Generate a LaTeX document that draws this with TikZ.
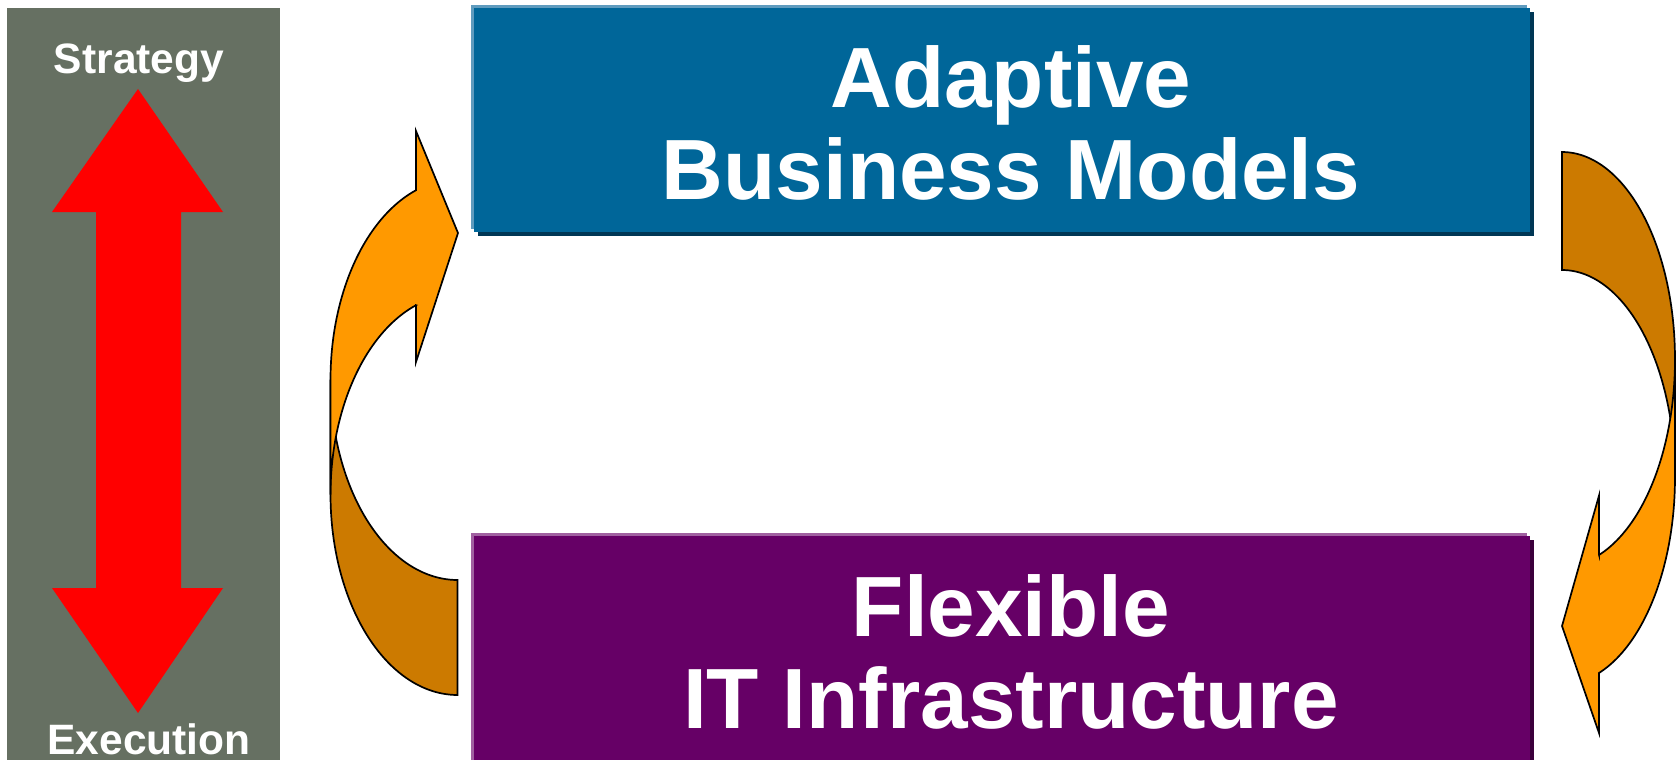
\documentclass[tikz,border=0pt]{standalone}
\usepackage{fontspec}
\setmainfont{Liberation Sans}
\definecolor{panelgray}{RGB}{102,112,98}
\definecolor{boxblue}{RGB}{0,102,153}
\definecolor{boxbluelight}{RGB}{95,155,190}
\definecolor{boxbluedark}{RGB}{0,55,85}
\definecolor{boxpurple}{RGB}{102,0,102}
\definecolor{boxpurplelight}{RGB}{160,96,160}
\definecolor{boxpurpledark}{RGB}{60,0,60}
\definecolor{arroworange}{RGB}{255,153,0}
\definecolor{arrowbrown}{RGB}{204,122,0}
\begin{document}
\begin{tikzpicture}[x=1pt,y=-1pt,
  panel/.style={fill=panelgray, draw=none, inner sep=0pt, anchor=north west},
  mainbox/.style={draw=none, inner sep=0pt, anchor=north west, minimum width=1056pt, minimum height=224pt},
  bigtext/.style={text=white, font=\fontsize{85.5}{91.5}\selectfont\bfseries, align=center, inner sep=0pt},
  sidetext/.style={text=white, font=\fontsize{42.5}{46}\selectfont\bfseries, inner sep=0pt, anchor=base},
  arrowback/.style={fill=arrowbrown, draw=black, line width=1.7pt, line join=miter},
  arrowfront/.style={fill=arroworange, draw=black, line width=1.7pt, line join=miter}]
\useasboundingbox (0,0) rectangle (1679,760);
\fill[white] (0,0) rectangle (1679,760);

% left panel
\node[panel, minimum width=273pt, minimum height=752pt] (panel) at (7,8) {};
\node[sidetext] (strategy) at (139,74) {Strategy};
\node[sidetext] (execution) at (149,754) {Execution};
\fill[red] (138,89) -- (223,212) -- (181,212) -- (181,588) -- (223,588) -- (138,713)
  -- (52,588) -- (96,588) -- (96,212) -- (52,212) -- cycle;

% blue box
\fill[boxbluedark] (478,12) rectangle (1534,236);
\fill[boxbluelight] (471,5) rectangle (1527,229);
\node[mainbox, fill=boxblue] (abm) at (474,8) {};
\node[bigtext] (abmtext) at (1011,123) {Adaptive\\Business Models};

% purple box
\fill[boxpurpledark] (478,540) rectangle (1534,764);
\fill[boxpurplelight] (471,533) rectangle (1527,764);
\node[mainbox, fill=boxpurple] (fit) at (474,536) {};
\node[bigtext] (fittext) at (1011,652) {Flexible\\IT Infrastructure};

% left curved arrow (back part, then front part)
\draw[arrowback] (457.5,580)
  -- plot[domain=90:180, samples=50, variable=\t] ({457.5+127*cos(\t)}, {379.6+200.4*sin(\t)})
  -- plot[domain=0:90, samples=50, variable=\t] ({457.5+127*cos(180-\t)}, {494.6+200.4*sin(180-\t)})
  -- cycle;
\draw[arrowfront] (416,190) -- (416,131) -- (458,233) -- (416,362) -- (416,305.2)
  -- plot[domain=0:70.93, samples=50, variable=\t] ({457.5+127*cos(250.93-\t)}, {494.6+200.4*sin(250.93-\t)})
  -- plot[domain=180:250.93, samples=50, variable=\t] ({457.5+127*cos(\t)}, {379.6+200.4*sin(\t)})
  -- cycle;

% right curved arrow (back part, then front part)
\draw[arrowback] (1562,152)
  -- plot[domain=-90:0, samples=50, variable=\t] ({1562+113*cos(\t)}, {359.2+207.2*sin(\t)})
  -- plot[domain=0:90, samples=50, variable=\t] ({1562+113*cos(-\t)}, {477.2+207.2*sin(-\t)})
  -- cycle;
\draw[arrowfront] (1599,555) -- (1599,495.6) -- (1562,626) -- (1599,733) -- (1599,673)
  -- plot[domain=0:70.89, samples=50, variable=\t] ({1562+113*cos(70.89-\t)}, {477.2+207.2*sin(70.89-\t)})
  -- plot[domain=0:70.89, samples=50, variable=\t] ({1562+113*cos(\t)}, {359.2+207.2*sin(\t)})
  -- cycle;
\end{tikzpicture}
\end{document}
